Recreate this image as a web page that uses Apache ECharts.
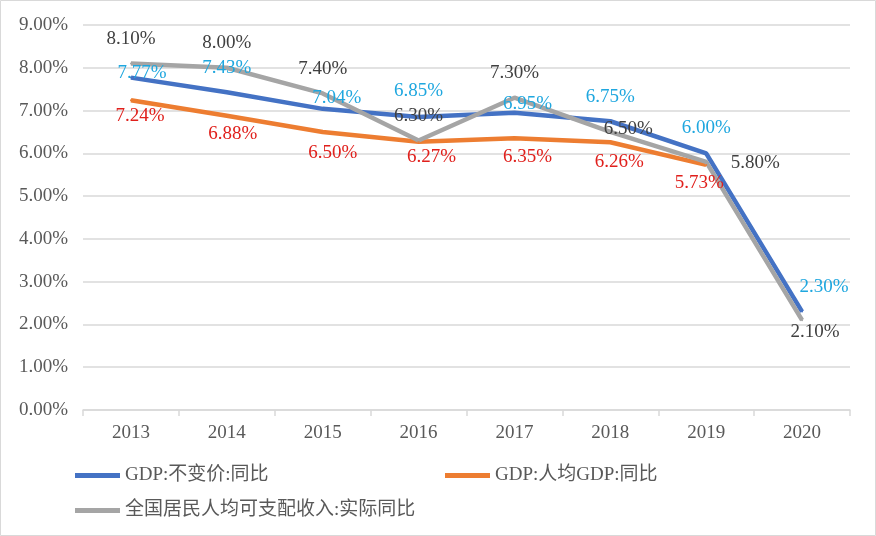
<!DOCTYPE html>
<html><head><meta charset="utf-8">
<script src="https://cdn.jsdelivr.net/npm/echarts@6/dist/echarts.min.js"></script>
<style>html,body{margin:0;padding:0;background:#fff}#c{width:876px;height:536px}</style>
</head><body><div id="c"></div>
<script>
const categories = ['2013','2014','2015','2016','2017','2018','2019','2020'];
const gdpConst = [7.77, 7.43, 7.04, 6.85, 6.95, 6.75, 6.00, 2.30];
const gdpPerCap = [7.24, 6.88, 6.50, 6.27, 6.35, 6.26, 5.73];
const incomeReal = [8.10, 8.00, 7.40, 6.30, 7.30, 6.50, 5.80, 2.10];
const seriesNames = ['GDP:不变价:同比', 'GDP:人均GDP:同比', '全国居民人均可支配收入:实际同比'];
const yTicks = [0,1,2,3,4,5,6,7,8,9];

// label placement (layout only)
const offBlue = [[11,-5],[0,-24],[14,-11],[0,-26],[13,-9],[0,-24],[0,-25],[22,-25]];
const offOrange = [[9,16],[6,18],[10,21],[13,15],[13,19],[9,20],[-7,18]];
const offGray = [[0,-24],[0,-25],[0,-24],[0,-24],[0,-25],[18,-3],[49,1],[13,12]];

const FONT = '"Liberation Serif","Noto Sans CJK SC",serif';
function mk(name, vals, offs, color, labelColor){
  return {
    name, type:'line', data: vals.map((v,i)=>({value:v, label:{offset:offs[i]}})),
    symbol:'circle', symbolSize:2, showSymbol:true,
    lineStyle:{width:4.5,color}, itemStyle:{color},
    label:{show:true, position:'inside', color:labelColor, fontFamily:FONT, fontSize:19,
      formatter:p=>p.value.toFixed(2)+'%'},
    emphasis:{disabled:true}
  };
}
const chart = echarts.init(document.getElementById('c'));
const legendBase = {icon:'rect', itemWidth:45, itemHeight:5, itemGap:0, padding:0,
  textStyle:{fontFamily:FONT, fontSize:19, color:'#595959', padding:[0,0,0,0]}};
chart.setOption({
  animation:false,
  backgroundColor:'#fff',
  graphic:[{type:'rect', shape:{x:0.5,y:0.5,width:875,height:535}, style:{fill:'none',stroke:'#D9D9D9',lineWidth:1}}],
  grid:{left:83,right:26,top:25,bottom:126},
  xAxis:{type:'category', data:categories,
    axisLine:{lineStyle:{color:'#D9D9D9',width:1.5}},
    axisTick:{show:true,length:6,lineStyle:{color:'#D9D9D9',width:1.5}},
    axisLabel:{color:'#595959',fontFamily:FONT,fontSize:19,margin:14}},
  yAxis:{type:'value', min:yTicks[0], max:yTicks[yTicks.length-1], interval:1,
    axisLine:{show:false}, axisTick:{show:false},
    splitLine:{lineStyle:{color:'#D9D9D9',width:1.5}},
    axisLabel:{color:'#595959',fontFamily:FONT,fontSize:19,margin:15,
      formatter:v=>v.toFixed(2)+'%'}},
  legend:[
    Object.assign({data:[seriesNames[0]], left:75, top:466}, legendBase),
    Object.assign({data:[seriesNames[1]], left:445, top:466}, legendBase),
    Object.assign({data:[seriesNames[2]], left:75, top:501}, legendBase)
  ],
  series:[
    mk(seriesNames[0], gdpConst, offBlue, '#4472C4', '#1FA7DF'),
    mk(seriesNames[1], gdpPerCap, offOrange, '#ED7D31', '#E0201C'),
    mk(seriesNames[2], incomeReal, offGray, '#A5A5A5', '#404040')
  ]
});
</script></body></html>
